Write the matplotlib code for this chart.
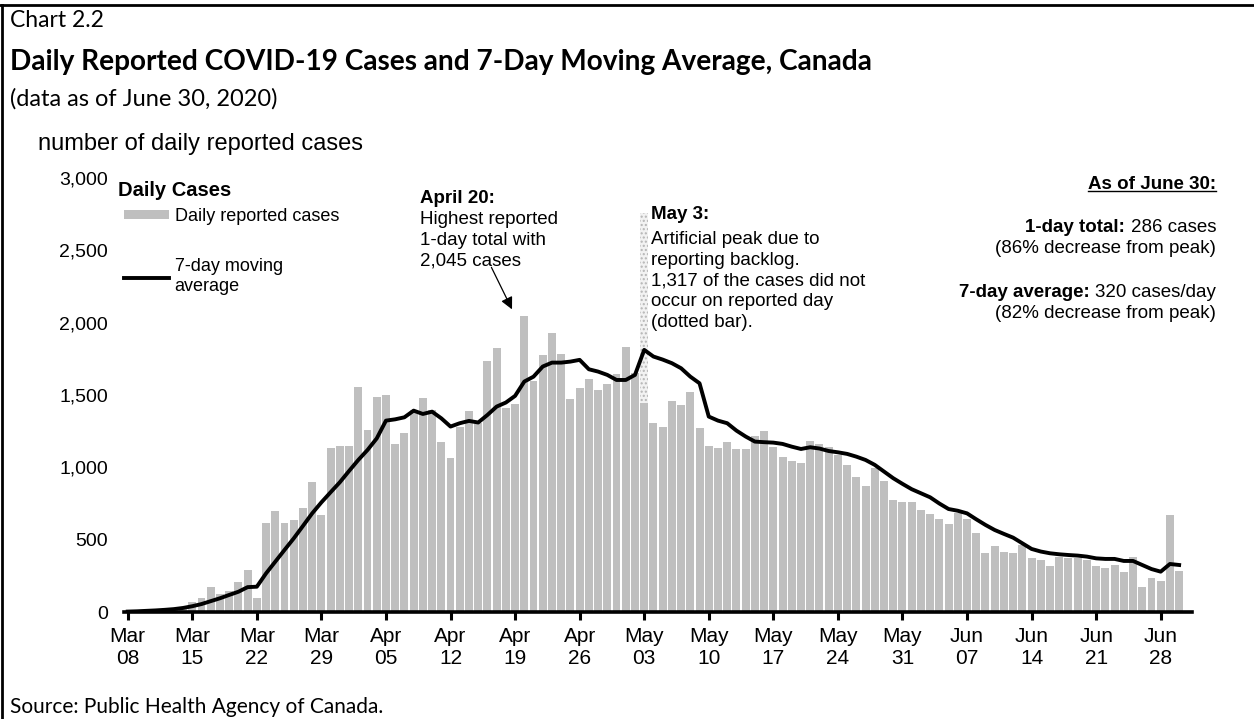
import numpy as np
import matplotlib.pyplot as plt
from matplotlib.lines import Line2D

plt.rcParams['font.family'] = ['Liberation Sans', 'DejaVu Sans']

# week labels (one every 7 days starting Mar 08)
tick_labels = ["Mar\n08", "Mar\n15", "Mar\n22", "Mar\n29", "Apr\n05", "Apr\n12",
               "Apr\n19", "Apr\n26", "May\n03", "May\n10", "May\n17", "May\n24",
               "May\n31", "Jun\n07", "Jun\n14", "Jun\n21", "Jun\n28"]

# daily reported cases, Mar 08 .. Jun 30
daily = [4, 9, 8, 14, 18, 25, 30, 70, 95, 175, 122, 145, 210, 290, 99,
         618, 701, 618, 636, 717, 901, 671, 1132, 1148, 1148, 1558, 1259, 1489,
         1501, 1160, 1236, 1397, 1478, 1397, 1173, 1067, 1282, 1390, 1305, 1736,
         1828, 1408, 1438, 2045, 1600, 1777, 1927, 1784, 1473, 1547, 1611, 1535,
         1577, 1646, 1830, 1650, 1443, 1305, 1282, 1457, 1432, 1519, 1275, 1148,
         1137, 1178, 1125, 1125, 1217, 1254, 1143, 1074, 1044, 1033, 1183, 1160,
         1143, 1086, 1017, 936, 871, 994, 906, 775, 758, 758, 705, 675, 641,
         609, 687, 641, 544, 406, 459, 413, 411, 461, 376, 360, 318, 383, 376,
         371, 360, 318, 302, 325, 279, 378, 171, 238, 217, 668, 286]

# May 3 backlog (cases that did not occur on the reported day)
backlog_day = 56
backlog = 1317
peak_day = 43

# 7-day moving average
avg7 = [3, 5, 8, 11, 15, 20, 28, 40, 55, 75, 95, 118, 140, 172, 175,
        267, 348, 429, 509, 595, 682, 758, 828, 897, 975, 1051, 1120, 1200,
        1323, 1332, 1346, 1392, 1369, 1385, 1339, 1282, 1305, 1321, 1310, 1362,
        1420, 1448, 1494, 1593, 1627, 1697, 1724, 1724, 1731, 1743, 1678, 1662,
        1639, 1604, 1604, 1639, 1812, 1766, 1745, 1720, 1685, 1627, 1581, 1351,
        1323, 1305, 1254, 1213, 1178, 1174, 1171, 1162, 1143, 1127, 1139, 1130,
        1113, 1104, 1093, 1074, 1051, 1017, 971, 925, 886, 849, 821, 793, 750,
        712, 700, 682, 641, 602, 567, 540, 514, 475, 436, 418, 406, 399, 394,
        390, 383, 371, 367, 367, 353, 353, 325, 297, 279, 332, 325]

x = np.arange(len(daily))

fig = plt.figure(figsize=(12.54, 7.19), dpi=100)
ax = fig.add_axes([0.0989, 0.1488, 0.8517, 0.6036])

bars = ax.bar(x, daily, width=0.86, color='#bfbfbf', zorder=1)
ax.bar(backlog_day, backlog, bottom=daily[backlog_day], width=0.86,
       color='#f2f2f2', hatch='....', edgecolor='#b5b5b5', lw=0, zorder=1)
line, = ax.plot(x, avg7, color='black', lw=2.8, zorder=3)

ax.set_xlim(-0.4, 115.4)
ax.set_ylim(0, 3000)
yt = list(range(0, 3001, 500))
ax.set_yticks(yt)
ax.set_yticklabels([f"{v:,}" for v in yt])
ax.tick_params(axis='y', length=0, pad=11.5, labelsize=14)
ax.set_xticks(x[::7])
ax.set_xticklabels(tick_labels)
ax.tick_params(axis='x', length=6, width=2.2, pad=5, labelsize=15)
for s in ['left', 'top', 'right']:
    ax.spines[s].set_visible(False)
ax.spines['bottom'].set_linewidth(2.6)

# legend block
ax.text(-0.0056, 0.972, 'Daily Cases', transform=ax.transAxes, fontsize=14.5,
        weight='bold', va='center')
ax.legend([bars, line], ['Daily reported cases', '7-day moving\naverage'],
          loc='upper left', bbox_to_anchor=(0.0, 0.931), frameon=False,
          fontsize=13, handlelength=2.5, handleheight=0.45, handletextpad=0.3,
          labelspacing=1.85, borderpad=0, borderaxespad=0)

# April 20 note
ax.text(31.7, 2916, 'April 20:', fontsize=13.5, weight='bold', va='top')
ax.text(31.7, 2771, 'Highest reported\n1-day total with\n2,045 cases',
        fontsize=13.5, va='top', linespacing=1.28)
ax.annotate('', xy=(peak_day - 1.2, daily[peak_day] + 30), xytext=(39.3, 2400),
            arrowprops=dict(arrowstyle='-|>', color='black', lw=0.9, mutation_scale=18))

# May 3 note
ax.text(56.7, 2807, 'May 3:', fontsize=13.5, weight='bold', va='top')
ax.text(56.7, 2634, 'Artificial peak due to\nreporting backlog.\n1,317 of the cases did not\n'
        'occur on reported day\n(dotted bar).', fontsize=13.5, va='top', linespacing=1.28)

# as of June 30 box
xr = 1.0225
head = ax.text(xr, 0.986, 'As of June 30:', transform=ax.transAxes, ha='right',
               va='center', fontsize=13.5, weight='bold')
t1 = ax.text(xr, 0.885, '286 cases', transform=ax.transAxes, ha='right', va='center', fontsize=13.5)
ax.annotate('1-day total: ', xy=(0, 0), xycoords=t1, ha='right', va='bottom',
            fontsize=13.5, weight='bold')
ax.text(xr, 0.838, '(86% decrease from peak)', transform=ax.transAxes, ha='right',
        va='center', fontsize=13.5)
t2 = ax.text(xr, 0.737, '320 cases/day', transform=ax.transAxes, ha='right', va='center', fontsize=13.5)
ax.annotate('7-day average: ', xy=(0, 0), xycoords=t2, ha='right', va='bottom',
            fontsize=13.5, weight='bold')
ax.text(xr, 0.687, '(82% decrease from peak)', transform=ax.transAxes, ha='right',
        va='center', fontsize=13.5)

# titles
fig.text(0.008, 0.9624, 'Chart 2.2', fontsize=16.5, family='Lato', va='baseline')
fig.text(0.008, 0.9026, 'Daily Reported COVID-19 Cases and 7-Day Moving Average, Canada',
         fontsize=20.2, family='Lato', weight='bold', va='baseline')
fig.text(0.008, 0.8526, '(data as of June 30, 2020)', fontsize=17, family='Lato', va='baseline')
fig.text(0.030, 0.792, 'number of daily reported cases', fontsize=17, va='baseline')
fig.text(0.008, 0.008, 'Source: Public Health Agency of Canada.', fontsize=15,
         family='Lato', va='baseline')

# frame (top and left edges)
fig.add_artist(Line2D([0, 1], [0.9937, 0.9937], transform=fig.transFigure, color='black', lw=2))
fig.add_artist(Line2D([0.0016, 0.0016], [0, 0.9937], transform=fig.transFigure, color='black', lw=2))

# underline the heading
fig.canvas.draw()
bb = head.get_window_extent().transformed(fig.transFigure.inverted())
fig.add_artist(Line2D([bb.x0, bb.x1], [bb.y0 + 0.002, bb.y0 + 0.002],
                      transform=fig.transFigure, color='black', lw=1))

fig.savefig('out.png', dpi=100)
